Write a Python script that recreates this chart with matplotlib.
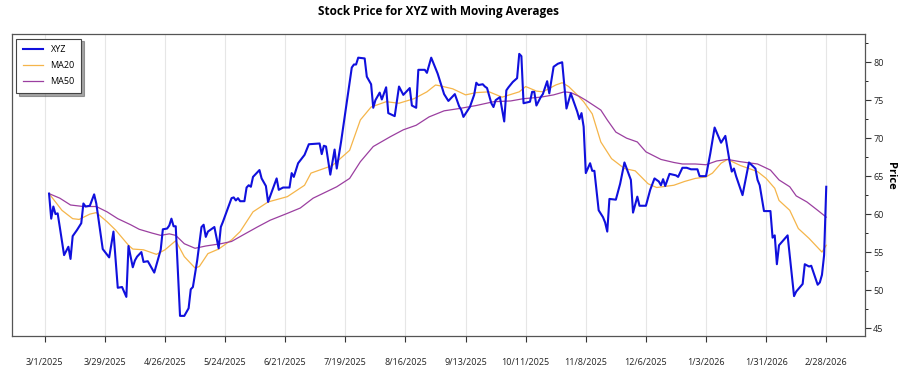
import numpy as np
import pandas as pd
import matplotlib
matplotlib.use('Agg')
import matplotlib.pyplot as plt
import matplotlib.ticker as mticker

plt.rcParams['font.family'] = ['Open Sans', 'DejaVu Sans']

start = pd.Timestamp('2025-03-01')

# price (day = days after 3/1/2025)
price_day = [2, 3, 4, 5, 6, 7, 9, 11, 12, 13, 15, 17, 18, 19, 21, 23, 24, 27, 30, 32,
             34, 36, 38, 39, 41, 42, 43, 45, 46, 48, 51, 54, 55, 57, 58, 59, 60, 61, 63, 65,
             67, 68, 69, 71, 73, 74, 75, 76, 78, 79, 81, 82, 83, 87, 88, 89, 90, 91, 93, 94,
             95, 96, 97, 100, 101, 103, 104, 108, 109, 111, 114, 115, 116, 118, 121, 123, 128, 129, 130, 131,
             133, 135, 136, 138, 143, 144, 145, 146, 149, 150, 152, 153, 154, 156, 157, 159, 160, 163, 165, 167,
             170, 171, 173, 174, 177, 178, 180, 182, 183, 186, 188, 191, 193, 194, 195, 198, 200, 201, 202, 204,
             205, 206, 208, 209, 210, 212, 214, 215, 216, 218, 220, 221, 222, 223, 226, 227, 228, 229, 231, 232,
             234, 235, 237, 239, 241, 243, 245, 247, 248, 249, 250, 251, 252, 254, 255, 256, 258, 260, 261, 262,
             263, 266, 268, 270, 273, 274, 276, 277, 280, 282, 284, 286, 287, 288, 289, 291, 294, 295, 297, 299,
             301, 304, 305, 308, 310, 312, 315, 317, 319, 320, 321, 322, 325, 328, 331, 332, 333, 335, 338, 339,
             340, 341, 342, 346, 349, 350, 353, 354, 356, 357, 360, 361, 362, 363, 364]
price_val = [62.7, 59.4, 61.0, 60.0, 60.1, 58.3, 54.6, 55.7, 54.1, 57.1, 57.9, 58.8, 61.4, 61.0, 61.1, 62.6, 61.4, 55.4, 54.3, 57.7,
             50.3, 50.4, 49.1, 55.8, 53.0, 53.9, 54.4, 55.0, 53.7, 53.8, 52.3, 55.3, 58.0, 58.1, 58.5, 59.4, 58.4, 58.4, 46.6, 46.6,
             47.6, 50.1, 50.4, 53.9, 58.3, 58.6, 57.0, 57.7, 58.1, 58.3, 55.5, 58.3, 59.0, 62.1, 62.2, 61.8, 62.1, 61.7, 61.7, 63.5,
             63.8, 63.6, 64.9, 65.8, 64.7, 63.7, 61.6, 64.7, 63.2, 63.5, 63.5, 65.4, 64.9, 66.7, 67.8, 69.2, 69.3, 67.9, 69.0, 68.9,
             65.2, 68.5, 66.0, 69.5, 79.3, 79.7, 79.7, 80.6, 80.5, 78.1, 77.1, 74.0, 75.0, 76.0, 75.1, 76.7, 73.3, 72.9, 76.8, 75.7,
             76.6, 74.3, 74.0, 79.0, 79.0, 78.6, 80.6, 79.2, 78.5, 75.8, 74.9, 75.8, 74.2, 73.7, 72.8, 74.1, 75.7, 77.3, 77.0, 77.1,
             76.8, 76.6, 74.6, 74.1, 75.0, 75.4, 72.2, 76.3, 76.7, 77.4, 77.9, 81.1, 80.8, 74.6, 74.8, 76.1, 76.1, 74.3, 75.4, 75.8,
             77.5, 75.9, 79.4, 79.8, 80.0, 73.9, 75.9, 74.3, 73.5, 72.5, 73.3, 71.5, 65.4, 66.7, 65.7, 65.7, 60.5, 59.6, 58.9, 57.7,
             62.0, 61.9, 64.0, 66.8, 64.5, 60.2, 62.3, 61.1, 61.1, 63.2, 64.7, 64.3, 63.8, 64.6, 63.7, 65.3, 65.1, 64.9, 66.1, 66.1,
             65.9, 65.9, 65.0, 65.0, 68.0, 71.4, 69.4, 70.3, 66.9, 65.6, 66.0, 65.0, 62.5, 66.8, 66.0, 64.5, 63.8, 60.4, 60.4, 56.9,
             57.2, 53.4, 55.9, 57.2, 49.2, 49.8, 50.8, 53.4, 53.1, 53.2, 50.7, 51.0, 52.0, 54.6, 63.6]

# 20-day moving average
ma20_day = [2, 8, 13, 16, 21, 24, 29, 33, 39, 41, 46, 52, 56, 61, 65, 70, 72, 76, 81, 87,
            91, 97, 104, 113, 121, 124, 134, 142, 147, 152, 159, 165, 172, 178, 182, 184, 190, 196, 201, 207,
            213, 221, 224, 229, 232, 238, 241, 244, 248, 251, 255, 259, 264, 270, 275, 281, 285, 293, 298, 303,
            308, 311, 315, 318, 324, 329, 332, 336, 340, 342, 347, 351, 356, 362, 364]
ma20_val = [62.7, 60.5, 59.4, 59.3, 60.0, 60.2, 59.0, 57.9, 55.9, 55.4, 55.3, 54.7, 55.3, 56.5, 54.4, 52.9, 53.1, 54.8, 55.4, 56.6,
            57.7, 60.3, 61.6, 62.3, 63.8, 65.4, 66.4, 68.4, 72.4, 74.1, 74.8, 74.6, 75.2, 76.1, 77.0, 76.9, 76.5, 75.7, 76.0, 76.1,
            75.4, 76.1, 76.8, 76.2, 76.1, 77.0, 77.3, 76.8, 75.7, 74.8, 73.2, 69.5, 67.3, 66.0, 65.7, 64.0, 63.5, 63.8, 64.3, 64.7,
            64.9, 65.4, 66.7, 67.2, 66.4, 65.9, 65.6, 64.7, 63.4, 61.8, 60.5, 58.1, 56.8, 55.0, 55.9]

# 50-day moving average
ma50_day = [2, 7, 12, 18, 24, 29, 34, 40, 44, 50, 54, 58, 61, 65, 70, 75, 82, 87, 92, 99,
            105, 113, 119, 125, 136, 142, 147, 153, 161, 167, 173, 179, 186, 193, 201, 209, 217, 223, 231, 237,
            242, 245, 249, 252, 259, 262, 266, 271, 276, 280, 287, 293, 297, 303, 308, 313, 318, 324, 332, 338,
            342, 347, 350, 355, 360, 364]
ma50_val = [62.7, 62.1, 61.2, 61.0, 61.0, 60.3, 59.4, 58.6, 58.0, 57.5, 57.2, 57.4, 57.2, 56.1, 55.5, 55.8, 56.1, 56.4, 57.2, 58.3,
            59.2, 60.1, 60.8, 62.1, 63.6, 64.7, 66.9, 68.9, 70.2, 71.1, 71.7, 72.8, 73.6, 73.9, 74.3, 74.8, 74.9, 75.2, 75.4, 75.7,
            76.1, 76.0, 75.5, 75.0, 73.7, 72.4, 70.8, 70.0, 69.5, 68.2, 67.2, 66.8, 66.6, 66.6, 66.5, 67.0, 67.2, 66.9, 66.6, 65.8,
            64.5, 63.6, 62.4, 61.6, 60.5, 59.6]

tick_dates = pd.date_range('2025-03-01', periods=14, freq='28D')

def to_dates(days):
    return start + pd.to_timedelta(days, unit='D')

fig = plt.figure(figsize=(9, 3.75), dpi=100)
ax = fig.add_axes([0.013, 0.104, 0.948, 0.805])

ax.plot(to_dates(price_day), price_val, color='#1010dd', lw=1.5, label='XYZ', zorder=3)
ax.plot(to_dates(ma20_day), ma20_val, color='#f5b54a', lw=0.9, label='MA20', zorder=2)
ax.plot(to_dates(ma50_day), ma50_val, color='#9b3fa0', lw=0.9, label='MA50', zorder=2)

ax.set_xlim(start - pd.Timedelta(days=15.4), start + pd.Timedelta(days=382))
ax.set_ylim(43.95, 83.7)

ax.set_xticks(tick_dates)
ax.set_xticklabels([f"{d.month}/{d.day}/{d.year}" for d in tick_dates], fontsize=6.5, color='#222222')
ax.tick_params(axis='x', length=4, pad=12, color='#333333')
ax.grid(axis='x', color='#e6e6e6', lw=0.8)
ax.set_axisbelow(True)

ax.yaxis.tick_right()
ax.yaxis.set_label_position('right')
ax.yaxis.set_major_locator(mticker.MultipleLocator(5))
ax.yaxis.set_minor_locator(mticker.MultipleLocator(2.5))
ax.tick_params(axis='y', labelsize=6.5, length=4, pad=2, colors='#333333', labelcolor='#222222')
ax.tick_params(axis='y', which='minor', length=2.5)
ax.set_ylabel('Price', fontsize=8, fontweight='bold', rotation=270)
ax.yaxis.set_label_coords(1.036, 0.53)

for s in ax.spines.values():
    s.set_color('#555555')
    s.set_linewidth(0.9)

ax.set_title('Stock Price for XYZ with Moving Averages', fontsize=8.5, fontweight='bold', pad=14)

leg = ax.legend(loc='upper left', fontsize=6.5, frameon=True, fancybox=False, shadow=True,
                borderpad=0.7, handlelength=2.3, labelspacing=0.8)
leg.get_frame().set_edgecolor('#444444')
leg.get_frame().set_linewidth(0.8)

fig.savefig('out.png', dpi=100)
